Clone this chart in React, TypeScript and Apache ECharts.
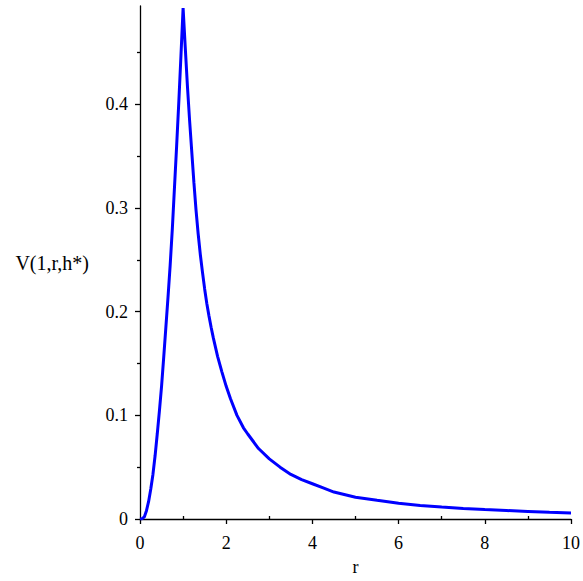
import React, { useEffect, useRef } from "react";
import * as echarts from "echarts";

const rValues = [
  0, 0.05, 0.1, 0.15, 0.2, 0.25, 0.3, 0.35, 0.4, 0.45, 0.5, 0.55, 0.6, 0.65, 0.7, 0.75,
  0.8, 0.85, 0.9, 0.95, 1.0,
  1.05, 1.1, 1.15, 1.2, 1.25, 1.3, 1.35, 1.4, 1.45, 1.5, 1.55, 1.6, 1.65, 1.7, 1.8, 1.9, 2.0,
  2.1, 2.25, 2.4, 2.5, 2.75, 3.0, 3.25, 3.5, 3.75, 4.0, 4.25, 4.5, 5.0, 5.5, 6.0,
  6.5, 7.0, 7.5, 8.0, 8.5, 9.0, 9.5, 10.0,
];
const vValues = [
  0, 0.0003, 0.002, 0.008, 0.017, 0.029, 0.043, 0.061, 0.082, 0.104, 0.128, 0.156, 0.185, 0.214, 0.245, 0.28,
  0.32, 0.36, 0.402, 0.447, 0.493,
  0.455, 0.418, 0.385, 0.355, 0.325, 0.298, 0.275, 0.255, 0.238, 0.222, 0.208, 0.196, 0.185, 0.175, 0.157, 0.142, 0.128,
  0.116, 0.1, 0.088, 0.082, 0.068, 0.058, 0.05, 0.043, 0.038, 0.034, 0.03, 0.026, 0.021, 0.018, 0.0151,
  0.013, 0.0115, 0.0102, 0.0091, 0.0082, 0.0073, 0.0064, 0.0057,
];
const xMajorTicks = [0, 2, 4, 6, 8, 10];
const xMinorTicks = [1, 3, 5, 7, 9];
const yMajorTicks = [0, 0.1, 0.2, 0.3, 0.4];
const yMinorTicks = [0.05, 0.15, 0.25, 0.35, 0.45];
const xName = "r";
const yName = "V(1,r,h*)";

const FONT = "'Liberation Serif', 'Times New Roman', serif";

export default function App() {
  const ref = useRef<HTMLDivElement>(null);
  useEffect(() => {
    if (!ref.current) return;
    const chart = echarts.init(ref.current, null, { renderer: "svg" });
    const data = rValues.map((r, i) => [r, vValues[i]]);
    const lineStyle = { color: "#000", width: 1.3 };
    chart.setOption({
      animation: false,
      backgroundColor: "#fff",
      grid: { left: 140, right: 11, top: 6, bottom: 55, containLabel: false },
      xAxis: [
        {
          type: "value",
          min: 0,
          max: 10,
          position: "bottom",
          name: xName,
          nameLocation: "middle",
          nameGap: 39,
          nameTextStyle: { color: "#000", fontFamily: FONT, fontSize: 18 },
          axisLine: { show: true, onZero: false, lineStyle },
          axisTick: { show: true, inside: false, length: 5, lineStyle, customValues: xMajorTicks },
          axisLabel: { show: true, customValues: xMajorTicks, margin: 15, color: "#000", fontFamily: FONT, fontSize: 18 },
          splitLine: { show: false },
        },
        {
          type: "value",
          min: 0,
          max: 10,
          position: "bottom",
          axisLine: { show: false },
          axisTick: { show: true, inside: true, length: 3, lineStyle, customValues: xMinorTicks },
          axisLabel: { show: false },
          splitLine: { show: false },
        },
      ],
      yAxis: [
        {
          type: "value",
          min: 0,
          max: 0.495,
          position: "left",
          name: yName,
          nameLocation: "middle",
          nameRotate: 0,
          nameGap: 51,
          nameTextStyle: { color: "#000", fontFamily: FONT, fontSize: 20, align: "right", verticalAlign: "middle" },
          axisLine: { show: true, onZero: false, lineStyle },
          axisTick: { show: true, inside: false, length: 5, lineStyle, customValues: yMajorTicks },
          axisLabel: { show: true, customValues: yMajorTicks, margin: 12, color: "#000", fontFamily: FONT, fontSize: 18 },
          splitLine: { show: false },
        },
        {
          type: "value",
          min: 0,
          max: 0.495,
          position: "left",
          axisLine: { show: false },
          axisTick: { show: true, inside: false, length: 3, lineStyle, customValues: yMinorTicks },
          axisLabel: { show: false },
          splitLine: { show: false },
        },
      ],
      series: [
        {
          type: "line",
          xAxisIndex: 0,
          yAxisIndex: 0,
          data,
          showSymbol: false,
          symbol: "none",
          smooth: false,
          lineStyle: { color: "#0000ff", width: 3 },
        },
      ],
    });
    return () => chart.dispose();
  }, []);
  return (
    <div
      ref={ref}
      style={{ position: "fixed", left: 0, top: 0, width: 583, height: 581, background: "#fff" }}
    />
  );
}
